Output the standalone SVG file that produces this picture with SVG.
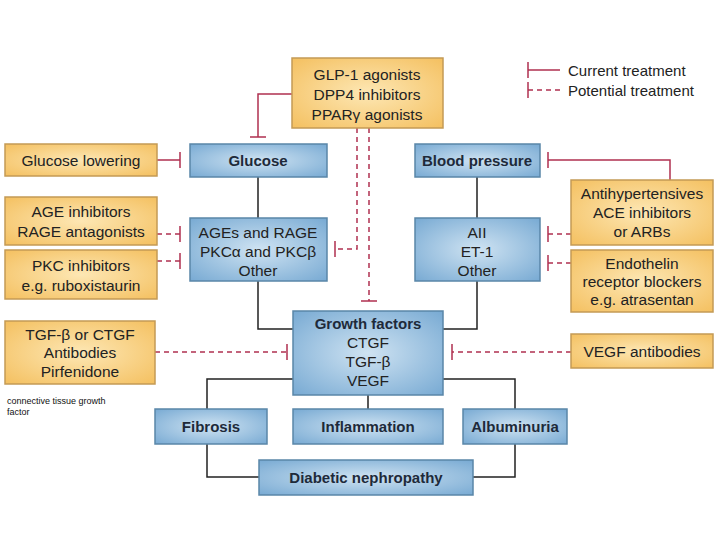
<svg xmlns="http://www.w3.org/2000/svg" width="720" height="540" viewBox="0 0 720 540">
<defs>
<radialGradient id="bg" cx="50%" cy="50%" r="70%"><stop offset="0" stop-color="#cfe3f2"/><stop offset="1" stop-color="#78aad3"/></radialGradient>
<radialGradient id="og" cx="50%" cy="50%" r="70%"><stop offset="0" stop-color="#fde7b4"/><stop offset="1" stop-color="#f4c060"/></radialGradient>
<style>
.b{fill:url(#bg);stroke:#5a86a8;stroke-width:1.5}
.o{fill:url(#og);stroke:#c49a55;stroke-width:1.5}
.bt{font-family:"Liberation Sans",Arial,sans-serif;font-size:15px;font-weight:bold;fill:#1e2a3a;text-anchor:middle}
.t{font-family:"Liberation Sans",Arial,sans-serif;font-size:15.5px;fill:#222;text-anchor:middle}
.k{stroke:#222;stroke-width:1.5;fill:none}
.r{stroke:#b03050;stroke-width:1.5;fill:none}
.d{stroke:#b03050;stroke-width:1.5;fill:none;stroke-dasharray:5 4}
</style>
</defs>
<g id="connectors">
<path class="k" d="M258 177V218M258 281V329H293M477 177V218M477 281V329H443M293 379H207V409M443 379H515V409M368 395V409M207 444V477H259M515 444V477H473"/>
<path class="r" d="M292 94H258V137M250 137H266M157 160H180M180 152V168M670 180V160H548M548 152V168"/>
<path class="d" d="M157 234H180M157 261H180M357 128V249H335M369 128V301M155 352H287M571 352H452M571 234H548M571 263H548"/>
<path class="r" d="M180 226V242M180 253V269M335 241V257M361 301H377M287 344V360M452 344V360M548 226V242M548 255V271"/>
<path class="r" d="M528 62V78M528 70H560"/>
<path class="d" d="M528 90H560"/><path class="r" d="M528 82V98"/>
</g>
<text x="568" y="76" style="font-family:'Liberation Sans',Arial,sans-serif;font-size:15px;fill:#222">Current treatment</text>
<text x="568" y="96" style="font-family:'Liberation Sans',Arial,sans-serif;font-size:15px;fill:#222">Potential treatment</text>
<g id="glp"><rect class="o" x="292" y="58" width="151" height="70"/><text class="t" x="367" y="80">GLP-1 agonists</text><text class="t" x="367" y="100">DPP4 inhibitors</text><text class="t" x="367" y="120">PPARγ agonists</text></g>
<g id="gl"><rect class="o" x="5" y="144" width="152" height="32"/><text class="t" x="81" y="166">Glucose lowering</text></g>
<g id="age"><rect class="o" x="5" y="197" width="152" height="48"/><text class="t" x="81" y="217">AGE inhibitors</text><text class="t" x="81" y="237">RAGE antagonists</text></g>
<g id="pkc"><rect class="o" x="5" y="250" width="152" height="49"/><text class="t" x="81" y="271">PKC inhibitors</text><text class="t" x="81" y="291">e.g. ruboxistaurin</text></g>
<g id="tgf"><rect class="o" x="5" y="321" width="150" height="63"/><text class="t" x="80" y="340">TGF-β or CTGF</text><text class="t" x="80" y="358">Antibodies</text><text class="t" x="80" y="377">Pirfenidone</text></g>
<g id="ah"><rect class="o" x="571" y="180" width="142" height="65"/><text class="t" x="642" y="199">Antihypertensives</text><text class="t" x="642" y="218">ACE inhibitors</text><text class="t" x="642" y="237">or ARBs</text></g>
<g id="et"><rect class="o" x="571" y="250" width="142" height="62"/><text class="t" x="642" y="269">Endothelin</text><text class="t" x="642" y="287">receptor blockers</text><text class="t" x="642" y="305">e.g. atrasentan</text></g>
<g id="vegf"><rect class="o" x="571" y="334" width="142" height="34"/><text class="t" x="642" y="357">VEGF antibodies</text></g>
<g id="glucose"><rect class="b" x="190" y="144" width="137" height="33"/><text class="bt" x="258" y="166">Glucose</text></g>
<g id="ages"><rect class="b" x="190" y="218" width="137" height="63"/><text class="t" x="258" y="238">AGEs and RAGE</text><text class="t" x="258" y="257">PKCα and PKCβ</text><text class="t" x="258" y="276">Other</text></g>
<g id="bp"><rect class="b" x="415" y="144" width="125" height="33"/><text class="bt" x="477" y="166">Blood pressure</text></g>
<g id="aii"><rect class="b" x="415" y="218" width="125" height="63"/><text class="t" x="477" y="238">AII</text><text class="t" x="477" y="257">ET-1</text><text class="t" x="477" y="276">Other</text></g>
<g id="gf"><rect class="b" x="293" y="311" width="150" height="84"/><text class="bt" x="368" y="329">Growth factors</text><text class="t" x="368" y="348">CTGF</text><text class="t" x="368" y="367">TGF-β</text><text class="t" x="368" y="386">VEGF</text></g>
<g id="fib"><rect class="b" x="155" y="409" width="112" height="35"/><text class="bt" x="211" y="432">Fibrosis</text></g>
<g id="inf"><rect class="b" x="293" y="409" width="150" height="35"/><text class="bt" x="368" y="432">Inflammation</text></g>
<g id="alb"><rect class="b" x="463" y="409" width="104" height="35"/><text class="bt" x="515" y="432">Albuminuria</text></g>
<g id="dn"><rect class="b" x="259" y="460" width="214" height="35"/><text class="bt" x="366" y="483">Diabetic nephropathy</text></g>
<text x="7" y="404" style="font-family:'Liberation Sans',Arial,sans-serif;font-size:9px;fill:#111">connective tissue growth</text>
<text x="7" y="415" style="font-family:'Liberation Sans',Arial,sans-serif;font-size:9px;fill:#111">factor</text>
</svg>
